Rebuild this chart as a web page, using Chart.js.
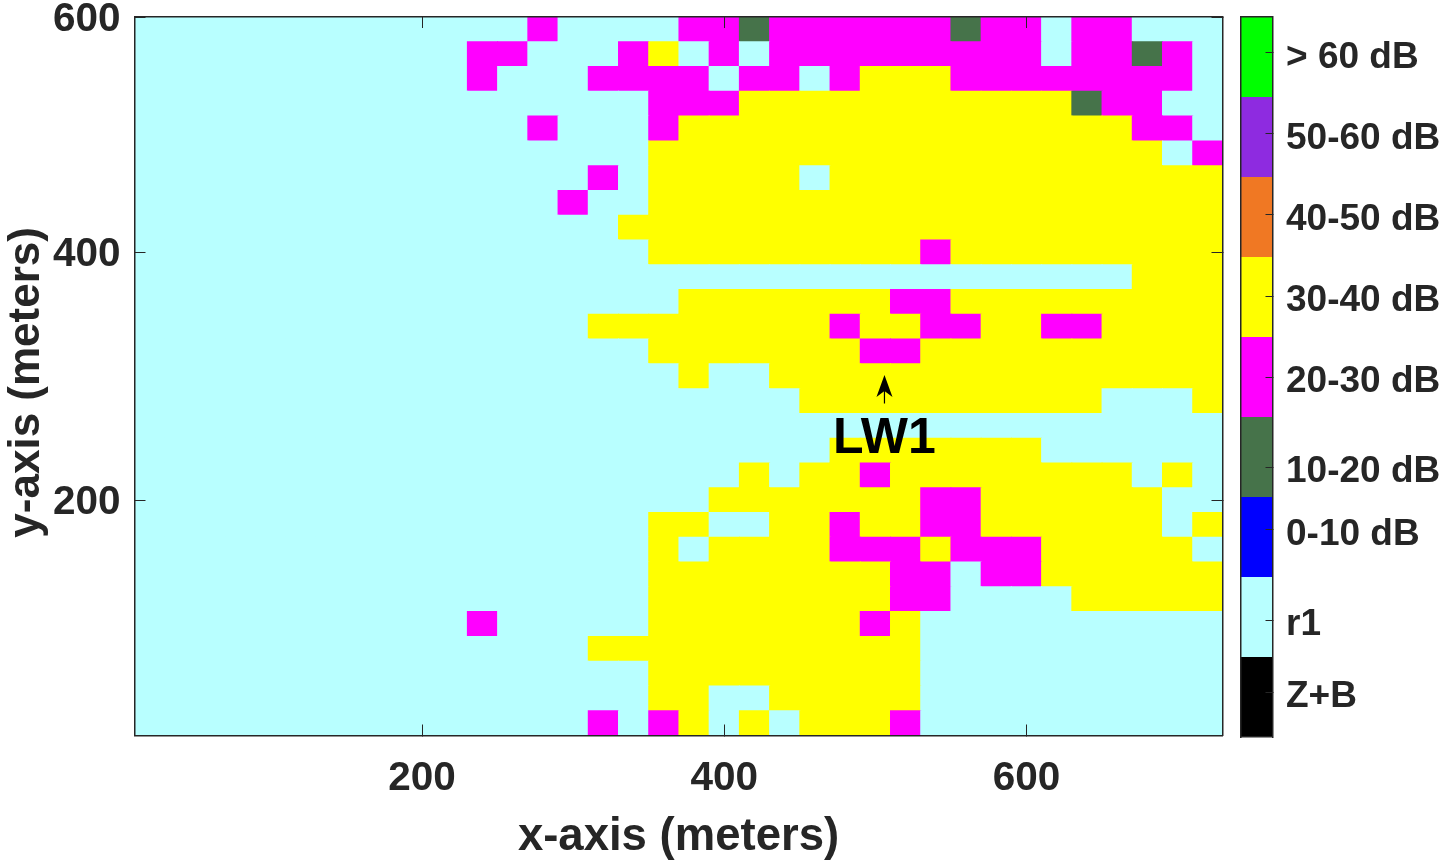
<!DOCTYPE html>
<html>
<head>
<meta charset="utf-8">
<title>LW1 map</title>
<script src="https://cdn.jsdelivr.net/npm/chart.js@4"></script>
<style>
    body { margin: 0; background: #fff; }
    canvas { position: absolute; top: 0; }
    #map { left: 0; }
    #bar { left: 1230px; }
</style>
</head>
<body>
<canvas id="map" width="1230" height="860"></canvas>
<canvas id="bar" width="210" height="860"></canvas>
<script>
const xCells = [20, 40, 60, 80, 100, 120, 140, 160, 180, 200, 220, 240, 260, 280, 300, 320, 340, 360,
    380, 400, 420, 440, 460, 480, 500, 520, 540, 560, 580, 600, 620, 640, 660, 680, 700, 720];
const yCells = [580, 560, 540, 520, 500, 480, 460, 440, 420, 400, 380, 360, 340, 320, 300,
    280, 260, 240, 220, 200, 180, 160, 140, 120, 100, 80, 60, 40, 20];
const cellSize = 20;

// one string per row, top row first, each digit is an index into levelLabels
const cellRows = [
    "111111111111141111443444444344144111",
    "111111111114411145141444444444144341",
    "111111111114111444414414555444444441",
    "111111111111111114445555555555534411",
    "111111111111141114555555555555555441",
    "111111111111111115555555555555555514",
    "111111111111111415555515555555555555",
    "111111111111114115555555555555555555",
    "111111111111111155555555555555555555",
    "111111111111111115555555554555555555",
    "111111111111111111111111111111111555",
    "111111111111111111555555544555555555",
    "111111111111111555555554554455445555",
    "111111111111111115555555445555555555",
    "111111111111111111511555555555555555",
    "111111111111111111111155555555551115",
    "111111111111111111111111111111111111",
    "111111111111111111111115555555111111",
    "111111111111111111115155455555555151",
    "111111111111111111155555554455555511",
    "111111111111111115511554554455555515",
    "111111111111111115155554445444555551",
    "111111111111111115555555544144555555",
    "111111111111111115555555544111155555",
    "111111111114111115555555451111111111",
    "111111111111111555555555551111111111",
    "111111111111111115555555551111111111",
    "111111111111111115511555551111111111",
    "111111111111111414515155541111111111"
];

const levelLabels = ["Z+B", "r1", "0-10 dB", "10-20 dB", "20-30 dB", "30-40 dB", "40-50 dB", "50-60 dB", "> 60 dB"];
const levelColors = ["#000000", "#b8ffff", "#0000ff", "#46734a", "#ff00ff", "#ffff00", "#f07823", "#8e2be0", "#00ff00"];
const levelTicks = [0.56, 1.46, 2.59, 3.375, 4.5, 5.51, 6.525, 7.54, 8.55];

const xTicks = [200, 400, 600];
const xTickLabels = ["200", "400", "600"];
const yTicks = [200, 400, 590];
const yTickLabels = ["200", "400", "600"];
const xRange = [9.7, 729.7];
const yRange = [10, 590];

const arrowTail = { x: 506, y: 278 };
const arrowTip = { x: 506, y: 301 };
const noteText = "LW1";
const notePos = { x: 506, y: 249.5 };

const ink = "#262626";
const axisFont = { family: "'Liberation Sans', Arial, sans-serif", weight: "bold", size: 40.5 };

// every side of the box is its own axis so the ticks can point inwards on all four sides
function boxAxis(position, min, max, ticks, tickLen, size, extra) {
    const horizontal = position === "top" || position === "bottom";
    return Object.assign({
        type: "linear",
        position,
        min,
        max,
        offset: false,
        afterBuildTicks: (scale) => { scale.ticks = ticks.map((value) => ({ value })); },
        afterFit: (scale) => {
            if (horizontal) scale.height = size; else scale.width = size;
            scale.paddingLeft = scale.paddingRight = scale.paddingTop = scale.paddingBottom = 0;
        },
        grid: { offset: false, drawOnChartArea: false, drawTicks: ticks.length > 0, tickLength: -tickLen, tickWidth: 1, tickColor: ink, z: 1 },
        border: { display: true, color: ink, width: 1.5, z: 1 },
        ticks: { display: false }
    }, extra);
}

const annotate = {
    id: "annotate",
    afterDatasetsDraw(chart) {
        const { ctx, scales } = chart;
        const tipX = scales.x.getPixelForValue(arrowTip.x);
        const tipY = scales.y.getPixelForValue(arrowTip.y);
        const tailY = scales.y.getPixelForValue(arrowTail.y);
        ctx.save();
        ctx.fillStyle = "#000";
        ctx.strokeStyle = "#000";
        ctx.lineWidth = 1.2;
        ctx.beginPath();
        ctx.moveTo(tipX, tipY + 10);
        ctx.lineTo(tipX, tailY);
        ctx.stroke();
        ctx.beginPath();
        ctx.moveTo(tipX, tipY);
        ctx.lineTo(tipX + 8, tipY + 22);
        ctx.lineTo(tipX, tipY + 16);
        ctx.lineTo(tipX - 8, tipY + 22);
        ctx.closePath();
        ctx.fill();
        ctx.font = "bold 50px 'Liberation Sans', Arial, sans-serif";
        ctx.textAlign = "center";
        ctx.textBaseline = "middle";
        ctx.fillText(noteText, scales.x.getPixelForValue(notePos.x), scales.y.getPixelForValue(notePos.y));
        ctx.restore();
    }
};

const cells = [];
const cellColors = [];
cellRows.forEach((row, r) => {
    xCells.forEach((x, c) => {
        cells.push({ x, y: [yCells[r] - cellSize / 2, yCells[r] + cellSize / 2] });
        cellColors.push(levelColors[Number(row[c])]);
    });
});

new Chart(document.getElementById("map"), {
    type: "bar",
    data: {
        datasets: [{
            data: cells,
            backgroundColor: cellColors,
            borderWidth: 0,
            barPercentage: 1,
            categoryPercentage: 1,
            inflateAmount: 0.5
        }]
    },
    options: {
        responsive: false,
        animation: false,
        layout: { padding: { top: 17, right: 7.5, bottom: 0, left: 0 } },
        plugins: { legend: { display: false }, tooltip: { enabled: false } },
        scales: {
            x: boxAxis("bottom", xRange[0], xRange[1], xTicks, 11, 124.5, {
                ticks: {
                    display: true, autoSkip: false, maxRotation: 0, color: ink, font: axisFont, padding: 30,
                    callback: (v, i) => xTickLabels[i]
                },
                title: {
                    display: true, text: "x-axis (meters)", color: ink,
                    font: { family: axisFont.family, weight: "bold", size: 45.5, lineHeight: 1 }, padding: { top: 0, bottom: 0 }
                }
            }),
            y: boxAxis("left", yRange[0], yRange[1], yTicks, 11, 134.5, {
                ticks: {
                    display: true, autoSkip: false, color: ink, font: axisFont, padding: 25, labelOffset: 2.5,
                    callback: (v, i) => yTickLabels[i]
                },
                title: {
                    // trailing space moves the rotated text down to where the reference has it
                    display: true, text: "y-axis (meters) ", color: ink,
                    font: { family: axisFont.family, weight: "bold", size: 44 }, padding: { top: 0, bottom: 0 }
                }
            }),
            xTop: boxAxis("top", xRange[0], xRange[1], xTicks, 11, 0),
            yRight: boxAxis("right", yRange[0], yRange[1], yTicks, 11, 0)
        }
    },
    plugins: [annotate]
});

new Chart(document.getElementById("bar"), {
    type: "bar",
    data: {
        datasets: [{
            data: levelLabels.map((label, i) => ({ x: 0.5, y: [i, i + 1] })),
            backgroundColor: levelColors,
            borderWidth: 0,
            barPercentage: 1,
            categoryPercentage: 1,
            inflateAmount: 0
        }]
    },
    options: {
        responsive: false,
        animation: false,
        layout: { padding: { top: 17, right: 0, bottom: 0, left: 10.5 } },
        plugins: { legend: { display: false }, tooltip: { enabled: false } },
        scales: {
            x: boxAxis("bottom", 0, 1, [], 0, 123),
            xTop: boxAxis("top", 0, 1, [], 0, 0),
            yLeft: boxAxis("left", 0, 9, [], 0, 0),
            y: boxAxis("right", 0, 9, levelTicks, 7, 167.5, {
                ticks: {
                    display: true, autoSkip: false, color: ink, padding: 20.5, labelOffset: 5,
                    font: { family: axisFont.family, weight: "bold", size: 37 },
                    callback: (v, i) => levelLabels[i]
                }
            })
        }
    }
});
</script>
</body>
</html>
